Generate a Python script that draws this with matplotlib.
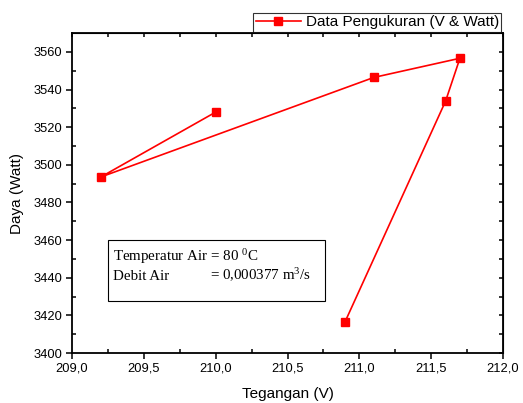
import numpy as np
import matplotlib.pyplot as plt
from matplotlib.patches import Rectangle

# measured voltage / power pairs, in recording order
tegangan = [210.0, 209.2, 211.1, 211.7, 211.6, 210.9]
daya = [3528.0, 3493.5, 3546.4, 3556.6, 3533.8, 3416.5]

plt.rcParams["font.family"] = ["Liberation Sans", "DejaVu Sans"]
plt.rcParams["mathtext.fontset"] = "custom"
plt.rcParams["mathtext.rm"] = "Liberation Serif"

fig = plt.figure(figsize=(5.23, 4.03), dpi=100)
ax = fig.add_axes([0.1377, 0.124, 0.8241, 0.794])

ax.plot(tegangan, daya, color="red", lw=1.2, marker="s", ms=6,
        mec="red", mfc="red", label="Data Pengukuran (V & Watt)")

ax.set_xlim(209.0, 212.0)
ax.set_ylim(3400, 3570)
ax.set_xticks(np.arange(209.0, 212.01, 0.5))
ax.set_xticks(np.arange(209.25, 212.0, 0.5), minor=True)
ax.set_yticks(np.arange(3400, 3561, 20))
ax.set_yticks(np.arange(3410, 3570, 20), minor=True)
ax.set_xticklabels([f"{v:.1f}".replace(".", ",") for v in np.arange(209.0, 212.01, 0.5)])

ax.tick_params(which="major", direction="out", length=4.5, width=1.1,
               labelsize=9.3, pad=2.5)
ax.tick_params(which="minor", direction="in", length=3, width=1.1)
for s in ax.spines.values():
    s.set_linewidth(1.3)

# inward ticks on the top and right frame
top = ax.secondary_xaxis("top")
top.set_xticks(np.arange(209.0, 212.01, 0.25))
top.tick_params(direction="in", length=3, width=1.1, labeltop=False)
right = ax.secondary_yaxis("right")
right.set_yticks(np.arange(3400, 3571, 10))
right.tick_params(direction="in", length=3, width=1.1, labelright=False)

ax.set_xlabel("Tegangan (V)", fontsize=11, labelpad=9)
ax.set_ylabel("Daya (Watt)", fontsize=11, labelpad=7)

ax.legend(loc="lower right", bbox_to_anchor=(1.0, 1.0), fontsize=11,
          frameon=True, fancybox=False, edgecolor="black", borderpad=0.15,
          handlelength=3.0, handletextpad=0.3, borderaxespad=0.1)
ax.get_legend().get_frame().set_linewidth(0.8)

# condition note
box = Rectangle((108, 102), 217, 61, transform=None, fill=False,
                edgecolor="black", lw=0.8)
fig.patches.append(box)
fig.text(113 / 523, 1 - 261 / 403, "Temperatur Air = 80 $\\mathregular{^0}$C",
         family="Liberation Serif", fontsize=10.8)
fig.text(113 / 523, 1 - 280 / 403, "Debit Air",
         family="Liberation Serif", fontsize=10.8)
fig.text(210 / 523, 1 - 280 / 403, "= 0,000377 m$\\mathregular{^3}$/s",
         family="Liberation Serif", fontsize=10.8)

fig.savefig("out.png", dpi=100)
